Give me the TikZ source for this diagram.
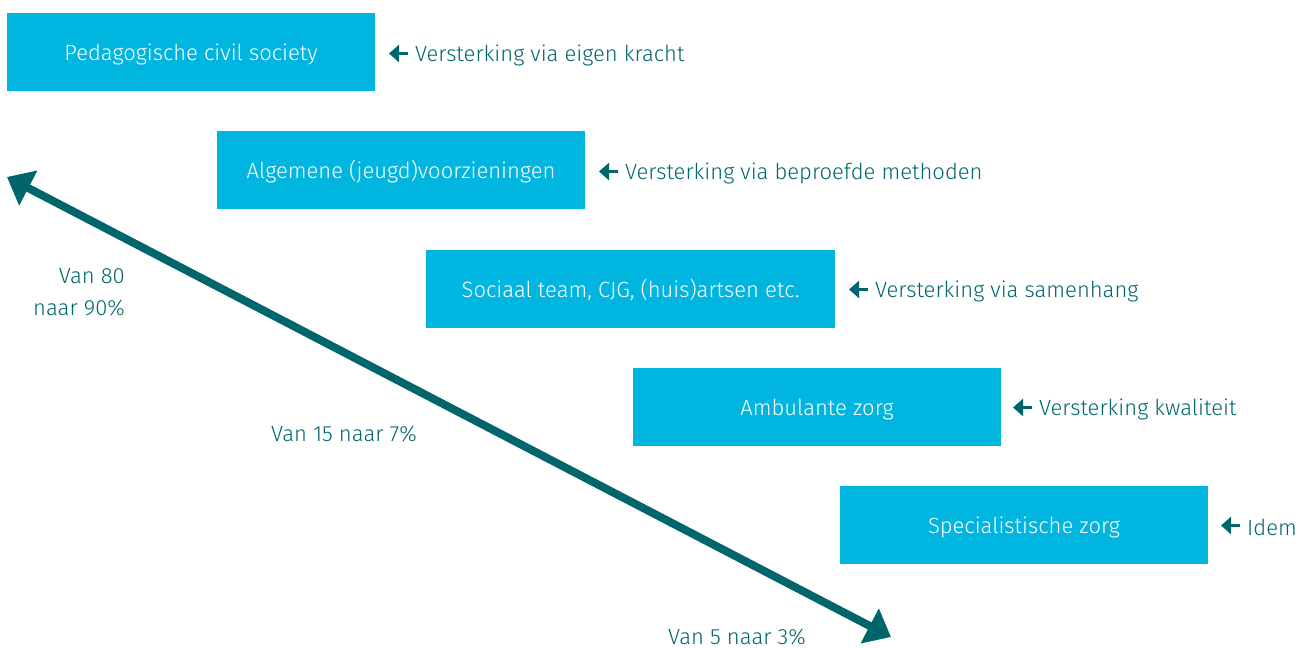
\documentclass[tikz,border=0pt]{standalone}
\usepackage{fontspec}
\setmainfont{Fira Sans Light}
\usetikzlibrary{arrows.meta}
\definecolor{boxcyan}{HTML}{00B6E0}
\definecolor{teal}{HTML}{00666C}
\begin{document}
\begin{tikzpicture}[x=1pt,y=-1pt,
  levelbox/.style={fill=boxcyan, text=white, minimum height=78pt, inner sep=0pt, text height=19pt, text depth=2pt, font=\fontsize{22}{26}\selectfont},
  lbl/.style={anchor=west, text=teal, inner sep=0pt, font=\fontsize{22}{27}\selectfont},
  pct/.style={text=teal, inner sep=0pt, font=\fontsize{22}{32}\selectfont},
  smallarrow/.style={teal, line width=3pt, -{Triangle[length=10pt,width=17pt]}},
  bigarrow/.style={teal, line width=8pt, {Triangle[length=24pt,width=38pt]}-{Triangle[length=24pt,width=38pt]}}
]
\useasboundingbox (0,0) rectangle (1306,648);
\node[levelbox, minimum width=368pt] (b1) at (191,52) {Pedagogische civil society};
\node[levelbox, minimum width=368pt] (b2) at (401,170) {Algemene (jeugd)voorzieningen};
\node[levelbox, minimum width=409pt] (b3) at (630.5,289) {Sociaal team, CJG, (huis)artsen etc.};
\node[levelbox, minimum width=368pt] (b4) at (817,407) {Ambulante zorg};
\node[levelbox, minimum width=368pt] (b5) at (1024,525) {Specialistische zorg};

\node[lbl] (l1) at (415,55) {Versterking via eigen kracht};
\node[lbl] (l2) at (625,173) {Versterking via beproefde methoden};
\node[lbl] (l3) at (875,291) {Versterking via samenhang};
\node[lbl] (l4) at (1039,409) {Versterking kwaliteit};
\node[lbl] (l5) at (1247,527) {Idem};

\foreach \i in {1,...,5}{
  \draw[smallarrow] ([xshift=-7pt,yshift=1.5pt]l\i.west) -- ++(-19,0);
}

\coordinate (top) at (7,177);
\coordinate (bot) at (891,637);
\draw[bigarrow] (top) -- (bot);

\node[pct, align=right, anchor=east] (p1) at (125,292) {Van 80\\naar 90\%};
\node[pct] (p2) at (344,434) {Van 15 naar 7\%};
\node[pct] (p3) at (737,637) {Van 5 naar 3\%};
\end{tikzpicture}
\end{document}
